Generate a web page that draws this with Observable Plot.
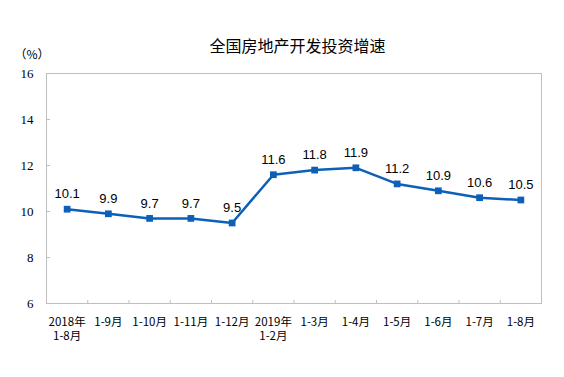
<!DOCTYPE html>
<html><head><meta charset="utf-8">
<script src="https://cdn.jsdelivr.net/npm/d3@7"></script>
<script src="https://cdn.jsdelivr.net/npm/@observablehq/plot@0.6"></script>
<style>body{margin:0;background:#fff}</style>
</head><body><div id="chart"></div>
<script>
const periods = ["2018年\n1-8月","1-9月","1-10月","1-11月","1-12月","2019年\n1-2月","1-3月","1-4月","1-5月","1-6月","1-7月","1-8月"];
const growth = [10.1, 9.9, 9.7, 9.7, 9.5, 11.6, 11.8, 11.9, 11.2, 10.9, 10.6, 10.5];
const yTicks = [6, 8, 10, 12, 14, 16];
const title = "全国房地产开发投资增速";
const unit = "（%）";

const data = growth.map((v, i) => ({i, v, label: v.toFixed(1)}));
const boundaries = periods.slice(1).map((_, i) => i + 0.5);
const blue = "#0e5fb8";
const gray = "#bfbfbf";
const cjk = "'Noto Sans CJK SC', sans-serif";

const chart = Plot.plot({
  width: 564, height: 377,
  marginLeft: 46, marginRight: 23, marginTop: 73, marginBottom: 74,
  style: {background: "#fff", color: "#000"},
  x: {type: "linear", domain: [-0.5, periods.length - 0.5]},
  y: {domain: [6, 16]},
  marks: [
    Plot.frame({stroke: gray}),
    Plot.axisY({ticks: yTicks, tickSize: 0, tickPadding: 13, fontFamily: "'Liberation Serif', serif", fontSize: 13, label: null}),
    Plot.axisY({ticks: yTicks.slice(1, -1), tickSize: -4, tickFormat: () => "", stroke: gray, label: null}),
    Plot.axisX({ticks: d3.range(periods.length), tickSize: 0, tickPadding: 12, tickFormat: i => periods[i], fontFamily: cjk, fontSize: 11.5, lineHeight: 1.25, label: null}),
    Plot.axisX({ticks: boundaries, tickSize: -3, tickFormat: () => "", stroke: gray, label: null}),
    Plot.line(data, {x: "i", y: "v", stroke: blue, strokeWidth: 2.5}),
    Plot.dot(data, {x: "i", y: "v", symbol: "square", r: 3.8, fill: blue, stroke: null}),
    Plot.text(data, {x: "i", y: "v", text: "label", dy: -15, fontFamily: "'Liberation Sans', Arial, sans-serif", fontSize: 13, fill: "#000"}),
    Plot.text([title], {frameAnchor: "top", dx: 3.5, dy: -33, fontFamily: cjk, fontSize: 16, fill: "#000"}),
    Plot.text([unit], {frameAnchor: "top-left", dx: -32, dy: -23, textAnchor: "start", fontFamily: cjk, fontSize: 12, fill: "#000"})
  ]
});
document.getElementById("chart").appendChild(chart);
</script>
</body></html>
